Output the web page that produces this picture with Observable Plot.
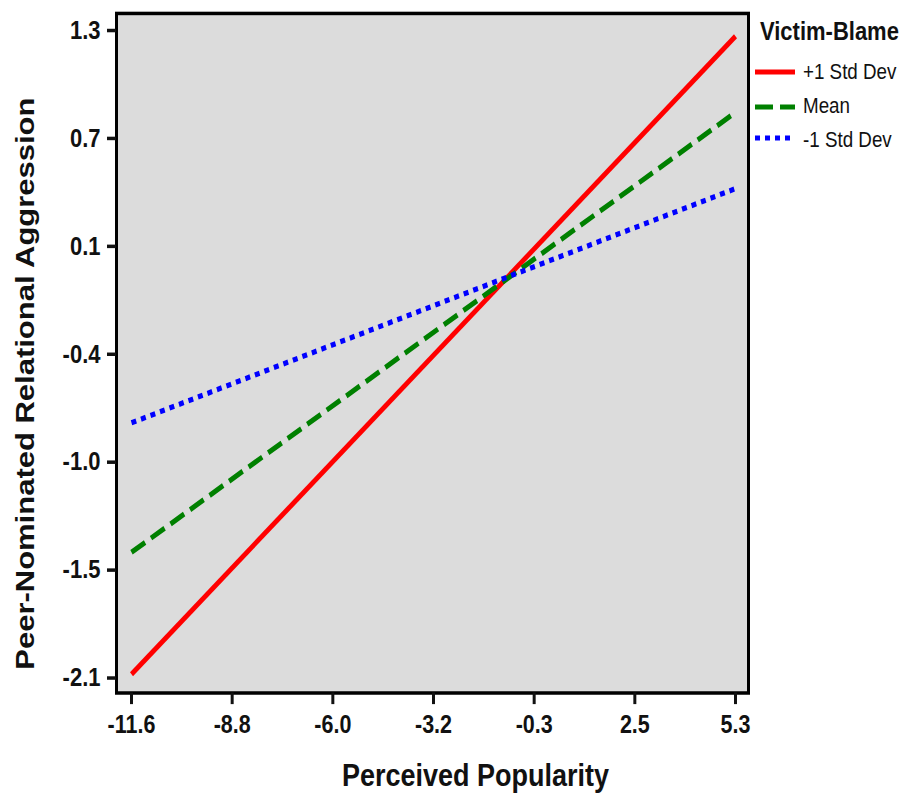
<!DOCTYPE html>
<html>
<head>
<meta charset="utf-8">
<script src="https://cdn.jsdelivr.net/npm/d3@7"></script>
<script src="https://cdn.jsdelivr.net/npm/@observablehq/plot@0.6"></script>
<style>
  html, body { margin: 0; padding: 0; background: #ffffff; }
  #wrap { position: relative; width: 904px; height: 793px; overflow: hidden; }
  #wrap svg { display: block; }
  #legend { position: absolute; left: 0; top: 0; }
</style>
</head>
<body>
<div id="wrap"></div>
<script>
// ---- data ----
const xEnds = [-11.6, 5.3];                 // Perceived Popularity range
const seriesNames = ["+1 Std Dev", "Mean", "-1 Std Dev"];
const plusOneSD = [-2.08, 1.27];
const meanVB = [-1.44, 0.87];
const minusOneSD = [-0.76, 0.47];
const seriesColors = ["#ff0000", "#008000", "#0000ff"];
const seriesDash = [null, "16,7", "5,5"];

const xTickLabels = ["-11.6", "-8.8", "-6.0", "-3.2", "-0.3", "2.5", "5.3"];
const yTickLabels = ["1.3", "0.7", "0.1", "-0.4", "-1.0", "-1.5", "-2.1"];
const xDomain = [-11.6, 5.3];
const yDomain = [-2.1, 1.3];

const xTitle = "Perceived Popularity";
const yTitle = "Peer-Nominated Relational Aggression";
const legendTitle = "Victim-Blame";

// evenly spaced tick positions across the domain (as in the original axis)
const xTicks = xTickLabels.map((_, i) => xDomain[0] + i * (xDomain[1] - xDomain[0]) / (xTickLabels.length - 1));
const yTicks = yTickLabels.map((_, i) => yDomain[1] - i * (yDomain[1] - yDomain[0]) / (yTickLabels.length - 1));

const seriesValues = [plusOneSD, meanVB, minusOneSD];
const rows = seriesNames.flatMap((name, s) =>
  xEnds.map((x, i) => ({series: name, x, y: seriesValues[s][i]})));

const font = "'Liberation Sans', Arial, Helvetica, sans-serif";
const W = 904, H = 678, SCREEN_H = 793;   // drawn at H, shown vertically stretched like the original image

const lineMarks = seriesNames.map((name, s) =>
  Plot.line(rows.filter(d => d.series === name), {
    x: "x", y: "y",
    stroke: seriesColors[s],
    strokeWidth: 4.5,
    strokeDasharray: seriesDash[s],
    strokeLinecap: "butt"
  }));

const chart = Plot.plot({
  width: W,
  height: H,
  marginLeft: 116,
  marginRight: 156,
  marginTop: 11,
  marginBottom: 86,
  style: {background: "#ffffff", color: "#111", overflow: "visible", fontFamily: font},
  x: {domain: xDomain, insetLeft: 15, insetRight: 13},
  y: {domain: yDomain, insetTop: 14.6, insetBottom: 12.8},
  marks: [
    Plot.frame({fill: "#dcdcdc", stroke: "none"}),
    ...lineMarks,
    Plot.frame({stroke: "#000", strokeWidth: 3}),
    Plot.axisX({
      ticks: xTicks,
      tickFormat: (d, i) => xTickLabels[i],
      tickSize: 10, tickPadding: 9,
      strokeWidth: 3,
      fontSize: 21.5, fontFamily: font, fontWeight: "bold",
      label: null
    }),
    Plot.axisY({
      ticks: yTicks,
      tickFormat: (d, i) => yTickLabels[i],
      tickSize: 9, tickPadding: 7,
      strokeWidth: 3,
      fontSize: 22, fontFamily: font, fontWeight: "bold",
      label: null
    }),
    Plot.text([xTitle], {
      frameAnchor: "bottom", textAnchor: "middle", lineAnchor: "middle",
      dx: 43, dy: 71,
      fontSize: 27, fontFamily: font, fontWeight: "bold", fill: "#111"
    }),
    Plot.text([yTitle], {
      frameAnchor: "left", textAnchor: "middle", lineAnchor: "middle",
      dx: -91, dy: 26, rotate: -90,
      fontSize: 26.5, fontFamily: font, fontWeight: "bold", fill: "#111"
    })
  ]
});

function stretch(svg) {
  svg.setAttribute("viewBox", `0 0 ${W} ${H}`);
  svg.setAttribute("width", W);
  svg.setAttribute("height", SCREEN_H);
  svg.setAttribute("preserveAspectRatio", "none");
  svg.style.width = W + "px";
  svg.style.height = SCREEN_H + "px";
  svg.style.maxWidth = "none";
}

const wrap = document.getElementById("wrap");
stretch(chart);
wrap.appendChild(chart);

// ---- legend ----
const leg = d3.create("svg")
  .attr("id", "legend")
  .style("pointer-events", "none");
leg.append("text")
  .attr("x", 760).attr("y", 34.2)
  .attr("font-family", font).attr("font-weight", "bold").attr("font-size", 22)
  .attr("fill", "#111")
  .text(legendTitle);
const swatchY = [61.5, 91.5, 118];
const labelY = [67.5, 96.8, 125.6];
seriesNames.forEach((name, s) => {
  leg.append("line")
    .attr("x1", 755).attr("x2", 795)
    .attr("y1", swatchY[s]).attr("y2", swatchY[s])
    .attr("stroke", seriesColors[s]).attr("stroke-width", 4.3)
    .attr("stroke-dasharray", s === 1 ? "18,7" : seriesDash[s]);
  leg.append("text")
    .attr("x", 803).attr("y", labelY[s])
    .attr("font-family", font).attr("font-size", 18.8)
    .attr("fill", "#111")
    .text(name);
});
const legNode = leg.node();
stretch(legNode);
wrap.appendChild(legNode);
</script>
</body>
</html>
